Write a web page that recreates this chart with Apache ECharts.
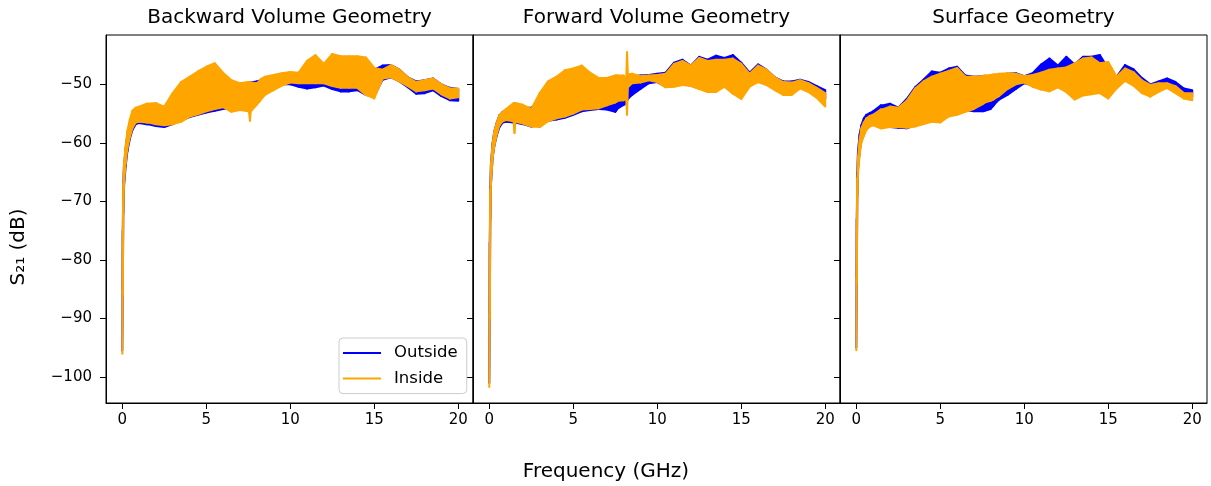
<!DOCTYPE html>
<html>
<head>
<meta charset="utf-8">
<script src="https://cdn.jsdelivr.net/npm/echarts@6/dist/echarts.min.js"></script>
<style>
  html, body { margin: 0; padding: 0; background: #fff; }
  #chart { width: 1211px; height: 486px; }
</style>
</head>
<body>
<div id="chart"></div>
<script>
// Frequency grid (GHz) shared by every trace; each trace is stored as the
// lower / upper envelope of its rapidly oscillating S21 response (dB).
const freq = [0, 0.03, 0.06, 0.1, 0.2, 0.3, 0.45, 0.6, 0.8, 1.0,
  1.45, 1.5, 1.55, 2.0, 2.5, 3.0, 3.5, 4.0, 4.5, 5.0,
  5.5, 6.0, 6.5, 7.0, 7.5, 7.55, 7.6, 7.65, 8.0, 8.15,
  8.2, 8.25, 8.5, 9.0, 9.5, 10.0, 10.5, 11.0, 11.5, 12.0,
  12.5, 13.0, 13.5, 14.0, 14.5, 15.0, 15.5, 16.0, 16.5, 17.0,
  17.5, 18.0, 18.5, 19.0, 19.5, 20.0];

// Backward volume geometry
const bwOutLo = [-95.5, -85, -72, -67.5, -64, -61.5, -59.3, -57.8, -56.8, -56.6,
  -56.8, -56.8, -56.8, -57.1, -57.3, -56.8, -56.2, -55.6, -55.2, -54.8,
  -54.5, -54.2, -54.0, -53.3, -52.0, -51.8, -51.6, -51.4, -50.6, -50.8,
  -51.0, -51.2, -51.5, -50.5, -50.0, -50.0, -50.4, -50.7, -50.5, -50.2,
  -50.8, -51.2, -51.2, -51.0, -51.8, -52.0, -49.2, -48.8, -49.5, -50.5,
  -51.6, -51.5, -51.0, -52.0, -52.7, -52.8];
const bwOutHi = [-93.5, -75, -67, -64, -61, -58.5, -56.5, -55, -54.5, -54.2,
  -54.0, -54.0, -54.0, -54.5, -54.5, -53.0, -51.5, -50.5, -50.0, -49.5,
  -49.5, -50.0, -50.5, -50.5, -49.8, -49.8, -49.7, -49.7, -49.5, -49.4,
  -49.4, -49.4, -49.3, -48.8, -48.5, -48.2, -48.6, -48.5, -48.5, -48.3,
  -48.3, -48.5, -48.3, -48.0, -48.0, -47.5, -46.8, -46.7, -47.5, -48.8,
  -49.5, -49.3, -49.0, -50.0, -50.6, -50.8];
const bwInLo = [-96, -86, -72, -67, -63.5, -61, -59, -57.5, -56.5, -56.4,
  -56.5, -56.5, -56.5, -56.8, -57.0, -56.8, -56.4, -55.5, -55.1, -54.6,
  -54.2, -53.9, -54.7, -54.4, -54.6, -54.8, -56.2, -54.6, -53.5, -53.0,
  -52.8, -52.6, -51.8, -51.0, -50.2, -49.7, -49.8, -49.8, -49.8, -49.8,
  -50.3, -50.6, -50.6, -50.6, -51.8, -52.4, -49.0, -48.8, -49.5, -50.3,
  -51.2, -51.0, -50.7, -51.7, -52.4, -52.2];
const bwInHi = [-94, -76, -67, -63.5, -60.5, -58, -56, -54.5, -54, -53.8,
  -53.3, -53.3, -53.3, -53.2, -53.8, -51.5, -49.6, -48.7, -47.8, -47.0,
  -46.4, -48.0, -49.3, -49.8, -49.6, -49.6, -49.7, -49.7, -49.8, -49.5,
  -49.3, -49.1, -48.7, -48.4, -48.1, -47.9, -48.0, -46.0, -45.0, -46.5,
  -44.8, -45.2, -45.2, -45.2, -45.4, -47.2, -47.5, -46.7, -47.5, -48.8,
  -49.6, -49.3, -49.0, -50.0, -50.7, -50.7];

// Forward volume geometry
const fwOutLo = [-101, -89, -73, -67, -62.5, -60.5, -58.7, -57.3, -56.5, -56.4,
  -56.5, -56.5, -56.5, -56.8, -57.2, -57.0, -56.2, -56.0, -55.7, -55.2,
  -54.6, -54.4, -54.2, -54.3, -54.7, -54.5, -54.3, -54.1, -53.5, -53.2,
  -52.8, -52.5, -51.8, -50.8, -49.8, -49.6, -50.4, -50.3, -50.0, -50.2,
  -50.7, -51.0, -51.0, -50.3, -51.3, -52.0, -50.2, -49.4, -49.9, -50.8,
  -51.5, -51.2, -50.5, -51.0, -51.8, -52.5];
const fwOutHi = [-98, -77, -67.5, -63.5, -60, -58, -56.5, -55.3, -54.7, -54.4,
  -53.5, -53.5, -53.5, -54.0, -54.0, -53.0, -51.5, -50.5, -50.0, -49.5,
  -49.5, -50.0, -50.0, -50.0, -50.0, -50.0, -50.0, -50.0, -50.0, -49.5,
  -49.0, -48.8, -48.6, -48.5, -48.4, -48.2, -48.0, -46.3, -45.8, -46.8,
  -45.3, -45.8, -45.1, -45.5, -45.0, -46.3, -48.0, -46.6, -47.5, -48.8,
  -49.5, -49.5, -49.2, -49.6, -50.3, -51.0];
const fwInLo = [-101.7, -90, -74, -67, -62.5, -60.5, -58.5, -57, -56.3, -56.1,
  -56.3, -58.3, -56.4, -56.7, -57.2, -57.3, -56.3, -55.8, -55.5, -55.0,
  -54.3, -54.2, -54.1, -53.6, -53.1, -53.0, -52.9, -52.8, -52.7, -52.5,
  -55.2, -50.5, -49.8, -49.7, -49.3, -49.6, -50.5, -50.4, -50.1, -50.3,
  -50.8, -51.3, -51.3, -50.4, -51.6, -52.5, -50.4, -49.6, -50.1, -51.0,
  -51.8, -51.8, -50.7, -51.3, -52.3, -53.8];
const fwInHi = [-99, -78, -68, -63.5, -60, -58, -56.5, -55.3, -54.7, -54.2,
  -53.2, -53.2, -53.2, -53.5, -54.2, -51.5, -49.5, -48.7, -47.6, -47.3,
  -46.8, -48.0, -48.9, -48.9, -48.5, -48.5, -48.5, -48.5, -48.5, -49.3,
  -44.5, -48.3, -48.2, -48.6, -48.5, -48.4, -48.2, -46.5, -46.0, -46.8,
  -45.5, -46.0, -45.8, -45.8, -45.6, -46.5, -48.2, -46.8, -47.5, -48.8,
  -49.6, -49.7, -49.3, -49.8, -50.6, -51.5];

// Surface geometry
const sfOutLo = [-95, -83, -69, -64.5, -61.5, -59.5, -58.3, -57.5, -56.9, -56.7,
  -57.0, -57.0, -57.0, -57.3, -57.4, -57.5, -57.0, -56.6, -56.1, -55.8,
  -55.2, -54.1, -54.4, -54.6, -54.6, -54.6, -54.5, -54.5, -54.2, -53.7,
  -53.5, -53.3, -52.6, -51.8, -50.8, -49.8, -50.1, -50.5, -50.7, -50.2,
  -51.0, -52.0, -51.5, -51.2, -51.0, -52.0, -50.4, -49.0, -50.1, -51.0,
  -51.3, -50.2, -49.8, -50.4, -51.3, -52.1];
const sfOutHi = [-92.5, -73, -65, -61.5, -58.5, -57, -55.8, -55.2, -54.9, -54.6,
  -53.6, -53.6, -53.6, -53.3, -54.0, -52.5, -50.5, -49.2, -47.8, -48.0,
  -47.3, -47.0, -48.5, -48.7, -48.6, -48.6, -48.6, -48.6, -48.6, -48.5,
  -48.5, -48.5, -48.4, -48.2, -48.1, -48.6, -48.1, -46.6, -45.6, -46.8,
  -45.3, -46.6, -45.3, -45.3, -45.0, -47.3, -48.7, -46.7, -47.4, -48.9,
  -50.0, -49.5, -49.0, -49.6, -50.7, -51.0];
const sfInLo = [-95.4, -84, -70, -65.5, -62, -60, -58.8, -57.8, -57.2, -57.0,
  -57.5, -57.5, -57.5, -57.3, -57.3, -57.4, -57.2, -56.8, -56.4, -56.5,
  -55.5, -55.2, -54.7, -54.2, -53.4, -53.3, -53.2, -53.1, -52.8, -52.6,
  -52.5, -52.4, -52.0, -50.8, -50.0, -49.7, -50.4, -50.9, -51.2, -50.5,
  -51.3, -52.6, -51.9, -51.7, -51.5, -52.4, -50.7, -49.4, -50.2, -51.5,
  -52.1, -51.3, -50.6, -51.5, -52.4, -52.7];
const sfInHi = [-93, -74, -66, -62.5, -59.5, -57.5, -56.5, -55.8, -55.4, -55.2,
  -54.3, -54.3, -54.3, -53.8, -54.0, -52.8, -50.7, -49.5, -48.7, -48.2,
  -47.7, -47.2, -48.7, -48.7, -48.6, -48.6, -48.5, -48.5, -48.4, -48.3,
  -48.3, -48.3, -48.2, -48.1, -48.2, -48.6, -48.4, -48.0, -47.5, -47.3,
  -47.1, -46.4, -45.6, -45.4, -46.4, -46.2, -48.7, -47.3, -47.9, -49.3,
  -50.1, -49.8, -49.8, -50.3, -51.5, -51.5];

const panelTitles = ['Backward Volume Geometry', 'Forward Volume Geometry', 'Surface Geometry'];
const seriesNames = ['Outside', 'Inside'];
const seriesColors = ['#0000ff', '#ffa500'];
const xTicks = [0, 5, 10, 15, 20];
const yTicks = [-100, -90, -80, -70, -60, -50];

const panels = [
  [[bwOutLo, bwOutHi], [bwInLo, bwInHi]],
  [[fwOutLo, fwOutHi], [fwInLo, fwInHi]],
  [[sfOutLo, sfOutHi], [sfInLo, sfInHi]]
];

const FONT = 'DejaVu Sans';
const gridLeft = [106, 473, 840];
const gridTop = 35, gridW = 367, gridH = 368;

function rows(lo, hi) {
  return freq.map((f, i) => [f, lo[i], hi[i]]);
}

// Fill the envelope between neighbouring samples as one quad per step.
function renderBand(params, api) {
  const i = params.dataIndexInside;
  if (i + 1 >= params.dataInsideLength) return null;
  const xa = api.value(0, i), xb = api.value(0, i + 1);
  const pts = [
    api.coord([xa, api.value(1, i)]),
    api.coord([xa, api.value(2, i)]),
    api.coord([xb, api.value(2, i + 1)]),
    api.coord([xb, api.value(1, i + 1)])
  ];
  const c = api.visual('color');
  return {
    type: 'polygon',
    shape: { points: pts },
    style: { fill: c, stroke: c, lineWidth: 2, lineJoin: 'round' }
  };
}

const minusFmt = v => (v < 0 ? '\u2212' + Math.abs(v) : String(v));

const grids = [], xAxes = [], yAxes = [], series = [];
panels.forEach((bands, k) => {
  grids.push({
    left: gridLeft[k], top: gridTop, width: gridW, height: gridH,
    show: true, borderColor: '#000', borderWidth: 1, backgroundColor: 'transparent'
  });
  xAxes.push({
    gridIndex: k, type: 'value', min: -0.97, max: 20.88,
    splitLine: { show: false },
    axisLine: { show: true, onZero: false, lineStyle: { color: '#000', width: 1 } },
    axisTick: { show: true, length: 6, customValues: xTicks, lineStyle: { color: '#000', width: 1 } },
    axisLabel: { customValues: xTicks, fontSize: 15, fontFamily: FONT, color: '#000', margin: 10 }
  });
  yAxes.push({
    gridIndex: k, type: 'value', min: -104.43, max: -41.57,
    splitLine: { show: false },
    axisLine: { show: true, onZero: false, lineStyle: { color: '#000', width: 1 } },
    axisTick: { show: true, length: 6, customValues: yTicks, lineStyle: { color: '#000', width: 1 } },
    axisLabel: {
      show: k === 0, customValues: yTicks, formatter: minusFmt,
      fontSize: 15, fontFamily: FONT, color: '#000', margin: 14
    }
  });
  bands.forEach((b, j) => {
    series.push({
      type: 'custom', name: seriesNames[j],
      xAxisIndex: k, yAxisIndex: k,
      data: rows(b[0], b[1]),
      encode: { x: 0, y: [1, 2] },
      renderItem: renderBand,
      clip: true, silent: true,
      itemStyle: { color: seriesColors[j] }
    });
  });
});

const textStyle = (size) => ({ fontSize: size, fontFamily: FONT, fill: '#000', align: 'center', verticalAlign: 'middle' });

const graphics = panelTitles.map((t, k) => ({
  type: 'text', x: gridLeft[k] + gridW / 2, y: 18,
  style: Object.assign({ text: t }, textStyle(20))
}));
graphics.push({ type: 'text', x: 606, y: 472, style: Object.assign({ text: 'Frequency (GHz)' }, textStyle(20)) });
graphics.push({ type: 'text', x: 19, y: 247, rotation: Math.PI / 2, style: Object.assign({ text: 'S\u2082\u2081 (dB)' }, textStyle(20)) });

const chart = echarts.init(document.getElementById('chart'), null, { renderer: 'canvas' });
chart.setOption({
  animation: false,
  backgroundColor: '#fff',
  grid: grids,
  xAxis: xAxes,
  yAxis: yAxes,
  series: series,
  legend: {
    orient: 'vertical', left: 339, top: 338,
    data: seriesNames, icon: 'rect',
    itemWidth: 38, itemHeight: 2, itemGap: 7.6,
    padding: [6, 9, 6, 4],
    backgroundColor: 'rgba(255,255,255,0.8)',
    borderColor: '#cccccc', borderWidth: 1, borderRadius: 4,
    selectedMode: false,
    textStyle: { fontSize: 16.5, fontFamily: FONT, color: '#000', lineHeight: 18, padding: [0, 0, 0, 8] }
  },
  graphic: graphics
});
</script>
</body>
</html>
